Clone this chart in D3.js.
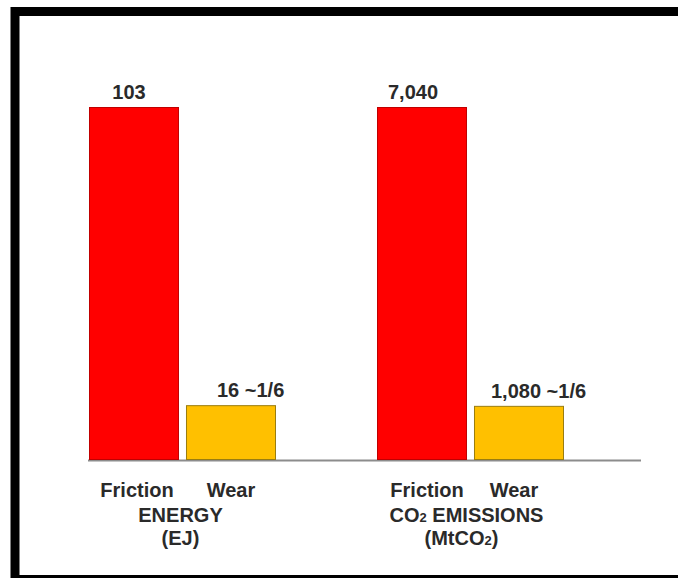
<!DOCTYPE html>
<html>
<head>
<meta charset="utf-8">
<script src="https://cdn.jsdelivr.net/npm/d3@7"></script>
<style>
  html, body { margin: 0; padding: 0; background: #fff; overflow: hidden; }
  svg { display: block; }
  text { font-family: "Liberation Sans", Arial, sans-serif; font-weight: bold; fill: #2a2a2a; }
</style>
</head>
<body>
<svg id="chart" width="678" height="578"></svg>
<script>
// Groups, bar categories and values (each group on its own scale)
const groups = ["ENERGY", "CO2 EMISSIONS"];
const units = ["(EJ)", "(MtCO2)"];
const categories = ["Friction", "Wear"];
const energyValues = [103, 16];
const co2Values = [7040, 1080];
const valueLabels = [["103", "16 ~1/6"], ["7,040", "1,080 ~1/6"]];
const colors = ["#ff0000", "#ffc000"];
const strokes = ["#c00000", "#9a7d10"];

const FS = 20;
const svg = d3.select("#chart");

// Outer frame (right side runs past the edge)
svg.append("rect")
  .attr("x", 15).attr("y", 11.5)
  .attr("width", 700).attr("height", 568)
  .attr("fill", "none").attr("stroke", "#000").attr("stroke-width", 9);

const baseY = 460, topY = 107;

const x0 = d3.scaleBand().domain(groups).range([89, 665]).paddingInner(0).paddingOuter(0);
const x1 = d3.scaleBand().domain(categories).range([0, 187]).paddingInner(0.072).paddingOuter(0);

const yScales = [
  d3.scaleLinear().domain([0, d3.max(energyValues)]).range([baseY, topY]),
  d3.scaleLinear().domain([0, d3.max(co2Values)]).range([baseY, topY])
];
const seriesByGroup = [energyValues, co2Values];

// Baseline
svg.append("line")
  .attr("x1", 88).attr("x2", 641)
  .attr("y1", baseY + 0.5).attr("y2", baseY + 0.5)
  .attr("stroke", "#8c8c8c").attr("stroke-width", 2);

groups.forEach((g, gi) => {
  const y = yScales[gi];
  const vals = seriesByGroup[gi];
  const grp = svg.append("g").attr("transform", `translate(${x0(g)},0)`);
  const rows = categories.map((c, i) => ({ c, v: vals[i], i }));

  grp.selectAll("rect.bar")
    .data(rows)
    .join("rect")
    .attr("class", "bar")
    .attr("x", d => x1(d.c) + 0.5)
    .attr("y", d => y(d.v) + 0.5)
    .attr("width", x1.bandwidth() - 1)
    .attr("height", d => y(0) - y(d.v) - 1)
    .attr("fill", d => colors[d.i])
    .attr("stroke", d => strokes[d.i])
    .attr("stroke-width", 1);

  // Value labels above bars
  grp.selectAll("text.val")
    .data(rows)
    .join("text")
    .attr("class", "val")
    .attr("x", d => d.i === 0 ? x1(d.c) + x1.bandwidth() / 2 - (gi === 0 ? 5 : 9) : x1(d.c) + (gi === 0 ? 31 : 17))
    .attr("y", d => y(d.v) - 8)
    .attr("text-anchor", d => d.i === 0 ? "middle" : "start")
    .attr("font-size", FS)
    .text(d => valueLabels[gi][d.i]);

  // Category labels
  grp.selectAll("text.cat")
    .data(categories)
    .join("text")
    .attr("class", "cat")
    .attr("x", (c, i) => x1(c) + x1.bandwidth() / 2 + (i === 0 ? (gi === 0 ? 3 : 5) : (gi === 0 ? 0 : -5)))
    .attr("y", 497)
    .attr("text-anchor", "middle")
    .attr("font-size", FS)
    .text(c => c);

  // Group title and unit, with subscript for CO2
  const cx = 187 / 2 - (gi === 0 ? 2 : 4);
  const title = grp.append("text")
    .attr("x", cx).attr("y", 522)
    .attr("text-anchor", "middle")
    .attr("font-size", FS);
  const unit = grp.append("text")
    .attr("x", cx - (gi === 0 ? 0 : 5)).attr("y", 545)
    .attr("text-anchor", "middle")
    .attr("font-size", FS);

  const addSub = (el, str) => {
    str.split("CO2").forEach((p, k) => {
      if (k > 0) {
        el.append("tspan").text("CO");
        el.append("tspan").attr("font-size", 13).text("2");
      }
      if (p) el.append("tspan").text(p);
    });
  };
  addSub(title, g);
  addSub(unit, units[gi]);
});
</script>
</body>
</html>
